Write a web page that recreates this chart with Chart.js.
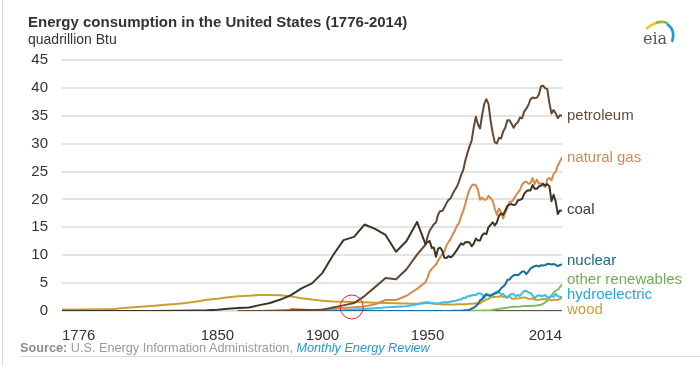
<!DOCTYPE html>
<html>
<head>
<meta charset="utf-8">
<script src="https://cdn.jsdelivr.net/npm/chart.js@4.4.1/dist/chart.umd.min.js"></script>
<style>
  html, body { margin: 0; padding: 0; background: #fff; }
  #wrap { position: relative; width: 700px; height: 366px; overflow: hidden; font-family: 'Liberation Sans', Arial, sans-serif; }
  #wrap canvas { position: absolute; left: 0; top: 0; }
  .edge { position: absolute; left: 2px; top: 0; width: 1px; height: 366px; background: #dcdcdc; }
  h1 { position: absolute; left: 28px; top: 13px; margin: 0; font-size: 15px; line-height: 17px; font-weight: bold; color: #333; white-space: nowrap; }
  .unit { position: absolute; left: 28px; top: 31px; font-size: 14px; line-height: 16px; color: #333; white-space: nowrap; }
  .source { position: absolute; left: 20px; top: 340px; font-size: 12.7px; line-height: 16px; color: #9a9a9a; white-space: nowrap; }
  .source b { color: #8c8c8c; }
  .source i { color: #1f9bd7; }
  .rule { position: absolute; left: 20px; right: 0; top: 356px; height: 1px; background: #dcdcdc; }
  .logo { position: absolute; left: 638px; top: 16px; }
</style>
</head>
<body>
<div id="wrap">
  <canvas id="chart" width="700" height="366"></canvas>
  <div class="edge"></div>
  <h1>Energy consumption in the United States (1776-2014)</h1>
  <div class="unit">quadrillion Btu</div>
  <div class="source"><b>Source:</b> U.S. Energy Information Administration, <i>Monthly Energy Review</i></div>
  <div class="rule"></div>
  <svg class="logo" width="40" height="34" viewBox="0 0 40 34">
    <path d="M8 13 Q 16 6 24 6" stroke="#f3c520" stroke-width="2.6" fill="none"/>
    <path d="M18 6.5 Q 25 4.5 30 7.5" stroke="#86bc41" stroke-width="2.6" fill="none"/>
    <path d="M29 8 Q 38 14 34 26" stroke="#1f9bd7" stroke-width="2.6" fill="none"/>
    <text x="5" y="28" font-family="'DejaVu Serif', 'Liberation Serif', serif" font-size="16" fill="#555">eia</text>
  </svg>
</div>
<script>
// tick labels
const xTicks = [1776, 1850, 1900, 1950, 2014];

// annual data from 1949 on, earlier years are sparse
const annualYears = [1949, 1950, 1951, 1952, 1953, 1954, 1955, 1956, 1957, 1958,
  1959, 1960, 1961, 1962, 1963, 1964, 1965, 1966, 1967, 1968,
  1969, 1970, 1971, 1972, 1973, 1974, 1975, 1976, 1977, 1978,
  1979, 1980, 1981, 1982, 1983, 1984, 1985, 1986, 1987, 1988,
  1989, 1990, 1991, 1992, 1993, 1994, 1995, 1996, 1997, 1998,
  1999, 2000, 2001, 2002, 2003, 2004, 2005, 2006, 2007, 2008,
  2009, 2010, 2011, 2012, 2013, 2014];

const petroleumEarlyYears = [1860, 1870, 1880, 1890, 1895, 1900, 1905, 1910, 1915, 1920, 1925, 1930, 1935, 1940, 1945];
const petroleumEarly = [0, 0.01, 0.1, 0.16, 0.17, 0.23, 0.61, 1.01, 1.42, 2.68, 4.28, 5.9, 5.68, 7.49, 10.11];
const petroleumAnnual = [11.88, 13.32, 14.43, 14.96, 15.56, 15.84, 17.25, 17.94, 17.93, 18.53,
  19.32, 19.92, 20.22, 21.05, 21.70, 22.30, 23.25, 24.40, 25.28, 26.98,
  28.34, 29.52, 30.56, 32.95, 34.84, 33.45, 32.73, 35.18, 37.12, 37.97,
  37.12, 34.20, 31.93, 30.23, 30.05, 31.05, 30.92, 32.20, 32.87, 34.22,
  34.21, 33.55, 32.85, 33.53, 33.84, 34.67, 34.55, 35.76, 36.27, 36.93,
  37.96, 38.26, 38.19, 38.22, 38.81, 40.29, 40.39, 39.96, 39.77, 37.28,
  35.40, 36.01, 35.44, 34.58, 35.10, 34.99];

const gasEarlyYears = [1885, 1890, 1895, 1900, 1905, 1910, 1915, 1920, 1925, 1930, 1935, 1940, 1945];
const gasEarly = [0.37, 0.26, 0.15, 0.25, 0.37, 0.54, 0.67, 0.81, 1.21, 1.97, 1.97, 2.73, 3.97];
const gasAnnual = [5.15, 5.97, 7.05, 7.55, 7.91, 8.33, 9.00, 9.61, 10.19, 10.66,
  11.72, 12.39, 12.93, 13.73, 14.40, 15.29, 15.77, 16.99, 17.94, 19.21,
  20.68, 21.79, 22.47, 22.70, 22.51, 21.73, 19.95, 20.35, 19.93, 20.00,
  20.67, 20.24, 19.75, 18.36, 17.23, 18.39, 17.70, 16.59, 17.64, 18.45,
  19.60, 19.60, 20.03, 20.71, 21.23, 21.73, 22.67, 23.09, 23.22, 22.83,
  22.91, 23.82, 22.77, 23.56, 22.83, 22.91, 22.56, 22.22, 23.66, 23.84,
  23.42, 24.57, 24.95, 26.09, 26.81, 27.50];

const coalEarlyYears = [1776, 1800, 1820, 1830, 1840, 1845, 1850, 1855, 1860, 1865, 1870, 1875, 1880, 1885,
  1890, 1895, 1900, 1905, 1910, 1915, 1920, 1925, 1930, 1935, 1940, 1945];
const coalEarly = [0, 0, 0.01, 0.03, 0.08, 0.12, 0.22, 0.42, 0.52, 0.63, 1.05, 1.44, 2.05, 2.84,
  4.06, 4.95, 6.84, 10.0, 12.71, 13.29, 15.5, 14.71, 13.64, 10.63, 12.54, 15.97];
const coalAnnual = [11.98, 12.35, 12.55, 11.31, 11.37, 9.72, 11.17, 11.35, 10.82, 9.53,
  9.52, 9.84, 9.62, 9.91, 10.41, 10.96, 11.58, 12.14, 11.91, 12.33,
  12.38, 12.27, 11.60, 12.08, 12.97, 12.66, 12.66, 13.58, 13.92, 13.77,
  15.04, 15.42, 15.91, 15.32, 15.89, 17.07, 17.48, 17.26, 18.01, 18.85,
  19.07, 19.17, 18.99, 19.12, 19.84, 19.91, 20.09, 21.00, 21.45, 21.66,
  21.62, 22.58, 21.91, 21.90, 22.32, 22.47, 22.80, 22.45, 22.75, 22.39,
  19.69, 20.83, 19.66, 17.38, 18.04, 17.99];

const nuclearEarlyYears = [1890, 1945];
const nuclearEarly = [0, 0];
const nuclearAnnual = [0, 0, 0, 0, 0, 0, 0, 0, 0, 0.002,
  0.002, 0.006, 0.02, 0.026, 0.038, 0.04, 0.043, 0.064, 0.088, 0.142,
  0.154, 0.239, 0.413, 0.584, 0.910, 1.272, 1.900, 2.111, 2.702, 3.024,
  2.776, 2.739, 3.008, 3.131, 3.203, 3.553, 4.076, 4.380, 4.754, 5.587,
  5.602, 6.104, 6.422, 6.479, 6.410, 6.694, 7.075, 7.087, 6.597, 7.068,
  7.610, 7.862, 8.029, 8.145, 7.959, 8.222, 8.161, 8.215, 8.459, 8.426,
  8.355, 8.434, 8.269, 8.062, 8.244, 8.338];

const otherYears = [1968, 1970, 1972, 1974, 1976, 1978, 1980, 1982, 1984, 1986, 1988, 1990, 1992, 1994,
  1996, 1998, 2000, 2002, 2004, 2005, 2006, 2007, 2008, 2009, 2010, 2011, 2012, 2013, 2014];
const otherValues = [0, 0.01, 0.03, 0.06, 0.08, 0.1, 0.13, 0.25, 0.38, 0.48, 0.6, 0.74, 0.78, 0.82,
  0.88, 0.9, 0.95, 0.97, 1.12, 1.3, 1.55, 1.85, 2.35, 2.75, 3.3, 3.65, 3.8, 4.3, 4.7];

const hydroEarlyYears = [1890, 1900, 1905, 1910, 1915, 1920, 1925, 1930, 1935, 1940, 1945];
const hydroEarly = [0, 0.02, 0.05, 0.12, 0.25, 0.35, 0.5, 0.65, 0.75, 0.85, 1.2];
const hydroAnnual = [1.425, 1.415, 1.424, 1.466, 1.413, 1.360, 1.360, 1.435, 1.516, 1.592,
  1.548, 1.608, 1.656, 1.816, 1.771, 1.886, 2.059, 2.062, 2.347, 2.349,
  2.648, 2.634, 2.824, 2.864, 2.861, 3.177, 3.155, 2.976, 2.333, 2.937,
  2.931, 2.900, 2.758, 3.266, 3.527, 3.386, 2.970, 3.071, 2.635, 2.334,
  2.837, 3.046, 3.016, 2.617, 2.892, 2.683, 3.205, 3.590, 3.640, 3.297,
  3.268, 2.811, 2.242, 2.689, 2.825, 2.690, 2.703, 2.869, 2.446, 2.511,
  2.669, 2.539, 3.103, 2.629, 2.562, 2.467];

const woodEarlyYears = [1776, 1785, 1795, 1800, 1805, 1810, 1815, 1820, 1825, 1830, 1835, 1840, 1845,
  1850, 1855, 1860, 1865, 1870, 1875, 1880, 1885, 1890, 1895, 1900, 1905, 1910, 1915, 1920,
  1925, 1930, 1935, 1940, 1945];
const woodEarly = [0.25, 0.27, 0.3, 0.32, 0.55, 0.68, 0.8, 0.95, 1.1, 1.25, 1.45, 1.7, 2.0,
  2.2, 2.45, 2.64, 2.75, 2.85, 2.85, 2.82, 2.62, 2.3, 2.05, 1.85, 1.72, 1.68, 1.62, 1.55,
  1.5, 1.45, 1.4, 1.36, 1.28];
const woodAnnual = [1.55, 1.56, 1.54, 1.34, 1.29, 1.24, 1.27, 1.25, 1.17, 1.18,
  1.2, 1.17, 1.15, 1.15, 1.17, 1.19, 1.19, 1.22, 1.19, 1.23,
  1.27, 1.28, 1.28, 1.35, 1.38, 1.39, 1.35, 1.71, 1.84, 2.04,
  2.15, 2.47, 2.50, 2.51, 2.56, 2.55, 2.69, 2.56, 2.46, 2.58,
  2.68, 2.22, 2.19, 2.28, 2.22, 2.32, 2.37, 2.44, 2.37, 2.18,
  2.21, 2.26, 2.04, 1.98, 2.00, 2.12, 2.14, 2.11, 2.10, 2.04,
  1.88, 2.00, 2.00, 1.98, 2.19, 2.30];

// flat dark segment along the zero line at the right
const baseYears = [1980, 2014];
const baseValues = [0, 0];

const FONT = "'Liberation Sans', Arial, sans-serif";
Chart.defaults.font.family = FONT;

const toPoints = (years, values) => years.map((x, i) => ({ x, y: values[i] }));
const joined = (earlyYears, early, annual) =>
  toPoints(earlyYears, early).concat(toPoints(annualYears, annual));

const line = (data, color, extra) => Object.assign({
  data,
  borderColor: color,
  borderWidth: 2,
  pointRadius: 0,
  tension: 0,
  borderJoinStyle: 'round',
  borderCapStyle: 'round',
  fill: false,
}, extra);

// first dataset is drawn on top
const datasets = [
  line(joined(coalEarlyYears, coalEarly, coalAnnual), '#3a3626',
    { endLabel: 'coal', labelColor: '#3d3b33', nudge: 3 }),
  line(joined(petroleumEarlyYears, petroleumEarly, petroleumAnnual), '#634832',
    { endLabel: 'petroleum', labelColor: '#5f4d3e', nudge: 4 }),
  line(joined(gasEarlyYears, gasEarly, gasAnnual), '#d88a4c',
    { endLabel: 'natural gas', labelColor: '#d38a52', nudge: 4 }),
  line(joined(nuclearEarlyYears, nuclearEarly, nuclearAnnual), '#17709a',
    { endLabel: 'nuclear', labelColor: '#1e6a8a', nudge: 1 }),
  line(joined(hydroEarlyYears, hydroEarly, hydroAnnual), '#3cbcef',
    { endLabel: 'hydroelectric', labelColor: '#27a6df', nudge: 2 }),
  line(toPoints(otherYears, otherValues), '#7dbd5a',
    { endLabel: 'other renewables', labelColor: '#72ad55', nudge: -0.5 }),
  line(joined(woodEarlyYears, woodEarly, woodAnnual), '#c9a02f',
    { endLabel: 'wood', labelColor: '#c8a23c', nudge: 16 }),
  line(toPoints(baseYears, baseValues), '#555555'),
];

const endLabels = {
  id: 'endLabels',
  afterDatasetsDraw(chart) {
    const { ctx, chartArea, scales } = chart;
    ctx.save();
    ctx.font = `15px ${FONT}`;
    ctx.textAlign = 'left';
    ctx.textBaseline = 'alphabetic';
    chart.data.datasets.forEach((ds, i) => {
      if (!ds.endLabel) return;
      const pts = chart.getDatasetMeta(i).data;
      const last = pts[pts.length - 1];
      ctx.fillStyle = ds.labelColor;
      ctx.fillText(ds.endLabel, chartArea.right + 5, last.y + ds.nudge);
    });
    // red marker ring where the lines cross near 1914
    const cx = scales.x.getPixelForValue(1913.9);
    const cy = scales.y.getPixelForValue(0.72);
    ctx.strokeStyle = '#e8231f';
    ctx.lineWidth = 1;
    ctx.beginPath();
    ctx.ellipse(cx, cy, 11.5, 12, 0, 0, Math.PI * 2);
    ctx.stroke();
    ctx.restore();
  }
};

new Chart(document.getElementById('chart').getContext('2d'), {
  type: 'line',
  data: { datasets },
  options: {
    responsive: false,
    animation: false,
    layout: { padding: { top: 60, right: 138, bottom: 25, left: 0 } },
    plugins: { legend: { display: false }, tooltip: { enabled: false } },
    scales: {
      x: {
        type: 'linear',
        min: 1776,
        max: 2014,
        grid: { display: false },
        border: { display: false },
        afterBuildTicks: axis => { axis.ticks = xTicks.map(value => ({ value })); },
        afterFit: axis => { axis.height = 30; },
        ticks: {
          align: 'inner',
          autoSkip: false,
          maxRotation: 0,
          padding: 8,
          color: '#333',
          font: { size: 15 },
          callback: v => String(v),
        },
      },
      y: {
        min: 0,
        max: 45,
        border: { display: false },
        grid: { color: '#e4e4e4', lineWidth: 2, drawTicks: false },
        afterFit: axis => { axis.width = 62; },
        ticks: { stepSize: 5, padding: 14, color: '#333', font: { size: 15 } },
      },
    },
  },
  plugins: [endLabels],
});
</script>
</body>
</html>
